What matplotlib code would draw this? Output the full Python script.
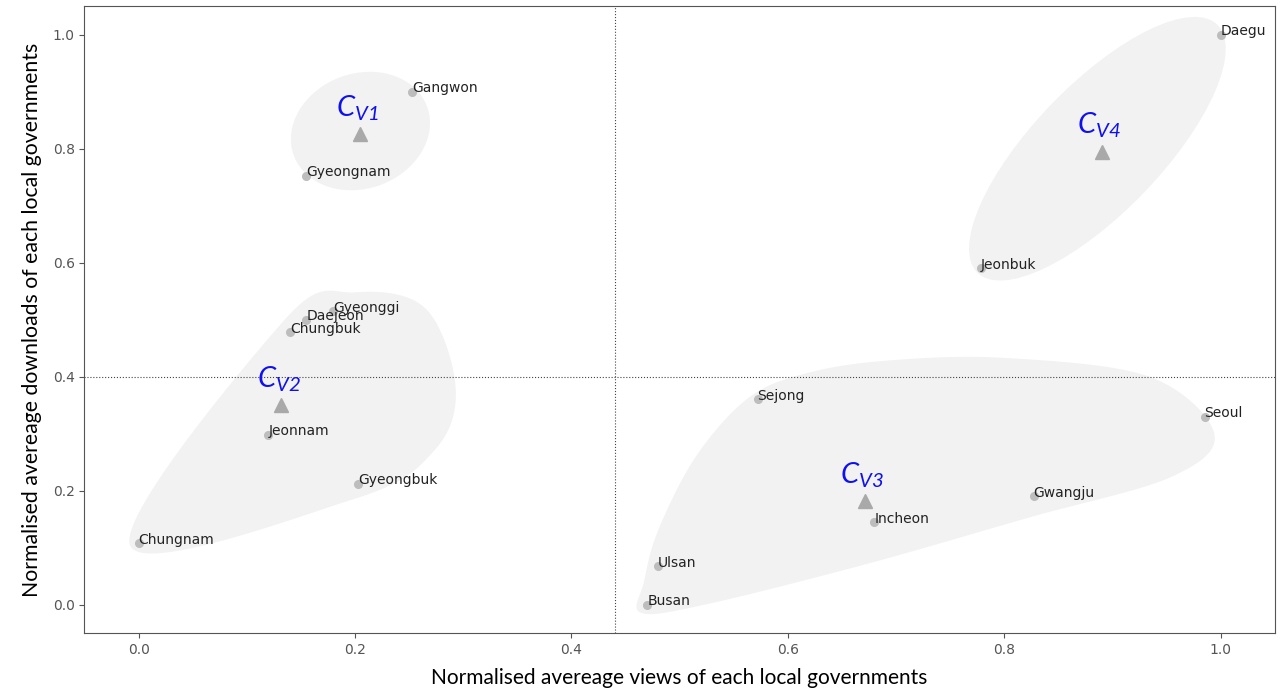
import numpy as np
import matplotlib.pyplot as plt
from matplotlib.patches import Ellipse, Polygon
from matplotlib.transforms import ScaledTranslation

plt.rcParams['mathtext.fontset'] = 'custom'
plt.rcParams['mathtext.it'] = 'Lato:italic'
plt.rcParams['mathtext.rm'] = 'Lato:italic'
plt.rcParams['mathtext.default'] = 'it'

# regions and their normalised views / downloads
names = ["Daegu", "Gangwon", "Gyeongnam", "Jeonbuk", "Gyeonggi", "Daejeon", "Chungbuk",
         "Jeonnam", "Gyeongbuk", "Chungnam", "Sejong", "Seoul", "Gwangju", "Incheon",
         "Ulsan", "Busan"]
views = [1.0, 0.253, 0.155, 0.778, 0.180, 0.155, 0.140,
         0.120, 0.203, 0.0, 0.572, 0.985, 0.827, 0.680,
         0.480, 0.470]
downloads = [1.0, 0.900, 0.753, 0.590, 0.515, 0.500, 0.478,
             0.298, 0.212, 0.108, 0.360, 0.330, 0.190, 0.145,
             0.068, 0.0]

# cluster centroids
centre_labels = [r"$C_{V1}$", r"$C_{V2}$", r"$C_{V3}$", r"$C_{V4}$"]
centre_x = [0.205, 0.132, 0.671, 0.890]
centre_y = [0.825, 0.350, 0.182, 0.795]

# outlines of the two irregular clusters (data coords)
blob_v2 = [(-0.008, 0.104), (0.20, 0.186), (0.273, 0.27), (0.293, 0.38),
           (0.265, 0.52), (0.20, 0.548), (0.135, 0.50)]
blob_v3 = [(0.464, -0.014), (0.523, 0.0), (0.672, 0.071), (0.823, 0.153), (0.954, 0.224),
           (0.994, 0.300), (0.934, 0.400), (0.80, 0.433), (0.69, 0.428), (0.615, 0.405),
           (0.563, 0.362), (0.515, 0.26), (0.48, 0.13), (0.467, 0.04)]


def smooth_closed(pts, n=30):
    # closed catmull-rom curve through the outline points
    p = np.array(pts)
    k = len(p)
    out = []
    for i in range(k):
        p0, p1, p2, p3 = p[i - 1], p[i], p[(i + 1) % k], p[(i + 2) % k]
        t = np.linspace(0, 1, n, endpoint=False)[:, None]
        out.append(0.5 * ((2 * p1) + (-p0 + p2) * t + (2 * p0 - 5 * p1 + 4 * p2 - p3) * t ** 2
                          + (-p0 + 3 * p1 - 3 * p2 + p3) * t ** 3))
    return np.vstack(out)


fig, ax = plt.subplots(figsize=(12.8, 6.92), dpi=100)
fig.subplots_adjust(left=0.066, right=0.996, top=0.991, bottom=0.085)

ax.set_xlim(-0.05, 1.05)
ax.set_ylim(-0.05, 1.05)

shade = '#efefef'
for blob in (blob_v2, blob_v3):
    ax.add_patch(Polygon(smooth_closed(blob), closed=True, fc=shade, ec='none', alpha=0.8, zorder=1))

# ellipses sized in inches around their centres
for (cx, cy), w, h, ang in [((0.205, 0.831), 1.42, 1.15, 20), ((0.886, 0.80), 3.45, 1.28, 46)]:
    tr = fig.dpi_scale_trans + ScaledTranslation(cx, cy, ax.transData)
    ax.add_patch(Ellipse((0, 0), w, h, angle=ang, transform=tr, fc=shade, ec='none', alpha=0.8, zorder=1))

ax.axvline(0.44, color='#444444', ls=':', lw=0.8, zorder=2)
ax.axhline(0.40, color='#444444', ls=':', lw=0.8, zorder=2)

ax.plot(views, downloads, 'o', color='#bdbdbd', ms=5.5, zorder=3)
for n, x, y in zip(names, views, downloads):
    ax.text(x, y + 0.006, n, fontsize=10, color='#222222', ha='left', va='center', zorder=4)

ax.plot(centre_x, centre_y, '^', color='#a9a9a9', ms=10, zorder=3)
for lab, x, y in zip(centre_labels, centre_x, centre_y):
    ax.annotate(lab, (x, y), xytext=(-2, 8), textcoords='offset points', ha='center', va='bottom',
                fontsize=21, color='#1010ee', zorder=5)

ax.set_xticks([0.0, 0.2, 0.4, 0.6, 0.8, 1.0])
ax.set_yticks([0.0, 0.2, 0.4, 0.6, 0.8, 1.0])
ax.tick_params(labelsize=10, labelcolor='#555555', color='#555555')
for s in ax.spines.values():
    s.set_color('#555555')

ax.set_xlabel("Normalised avereage views of each local governments", fontsize=15, family='Lato', labelpad=8)
ax.set_ylabel("Normalised avereage downloads of each local governments", fontsize=15.3, family='Lato', labelpad=8)

fig.savefig("out.png", dpi=100)
